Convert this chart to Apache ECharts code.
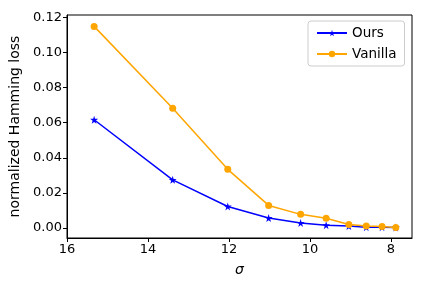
<!DOCTYPE html>
<html>
<head>
<meta charset="utf-8">
<script src="https://cdn.jsdelivr.net/npm/echarts@6/dist/echarts.min.js"></script>
<style>
  html, body { margin: 0; padding: 0; background: #fff; }
  #chart { width: 432px; height: 288px; }
</style>
</head>
<body>
<div id="chart"></div>
<script>
// sigma values (x axis, inverted)
var sigma = [15.33, 13.39, 12.03, 11.02, 10.23, 9.60, 9.04, 8.61, 8.22, 7.88];
var ours = [0.0617, 0.0274, 0.0122, 0.0056, 0.0028, 0.0015, 0.0010, 0.0004, 0.0004, 0.0002];
var vanilla = [0.1150, 0.0683, 0.0334, 0.0128, 0.0077, 0.0055, 0.0019, 0.0010, 0.0008, 0.0002];
var xTicks = [8, 10, 12, 14, 16];
var yTicks = [0, 0.02, 0.04, 0.06, 0.08, 0.10, 0.12];

var star = 'path://M50,0 L61,35 L98,35 L68,57 L79,91 L50,70 L21,91 L32,57 L2,35 L39,35 Z';

function pairs(xs, ys) {
  return xs.map(function (x, i) { return [x, ys[i]]; });
}

var myChart = echarts.init(document.getElementById('chart'));

var font = 'DejaVu Sans';
var option = {
  animation: false,
  textStyle: { fontFamily: font },
  grid: {
    left: 67, right: 20, top: 15, bottom: 50,
    containLabel: false,
    outerBoundsMode: 'none',
    show: true, borderColor: '#000', borderWidth: 1
  },
  legend: {
    orient: 'vertical',
    left: 308, top: 21,
    padding: [5, 8, 5, 8],
    itemGap: 7,
    itemWidth: 30, itemHeight: 8,
    borderColor: '#cccccc', borderWidth: 1, borderRadius: 3,
    textStyle: { fontSize: 13.5, color: '#000', fontFamily: font },
    data: ['Ours', 'Vanilla']
  },
  xAxis: {
    type: 'value',
    inverse: true,
    min: 7.48, max: 16,
    name: 'σ',
    nameLocation: 'middle',
    nameGap: 25,
    nameTextStyle: { fontSize: 14, fontStyle: 'italic', color: '#000', fontFamily: font },
    splitLine: { show: false },
    axisLine: { show: true, onZero: false, lineStyle: { color: '#000' } },
    axisTick: { show: true, length: 4, lineStyle: { color: '#000' }, customValues: xTicks },
    axisLabel: { fontSize: 13, color: '#000', margin: 5, customValues: xTicks }
  },
  yAxis: {
    type: 'value',
    min: -0.0058, max: 0.1215,
    name: 'normalized Hamming loss',
    nameLocation: 'middle',
    nameGap: 43,
    nameTextStyle: { fontSize: 14, color: '#000', fontFamily: font },
    splitLine: { show: false },
    axisLine: { show: true, onZero: false, lineStyle: { color: '#000' } },
    axisTick: { show: true, length: 4, lineStyle: { color: '#000' }, customValues: yTicks },
    axisLabel: {
      fontSize: 13, color: '#000', margin: 5, customValues: yTicks,
      formatter: function (v) { return v.toFixed(2); }
    }
  },
  series: [
    {
      name: 'Ours',
      type: 'line',
      data: pairs(sigma, ours),
      symbol: star,
      symbolSize: 8,
      itemStyle: { color: '#0000ff' },
      lineStyle: { color: '#0000ff', width: 1.5 },
      z: 2
    },
    {
      name: 'Vanilla',
      type: 'line',
      data: pairs(sigma, vanilla),
      symbol: 'circle',
      symbolSize: 7,
      itemStyle: { color: '#ffa500' },
      lineStyle: { color: '#ffa500', width: 1.5 },
      z: 3
    }
  ]
};
myChart.setOption(option);
</script>
</body>
</html>
